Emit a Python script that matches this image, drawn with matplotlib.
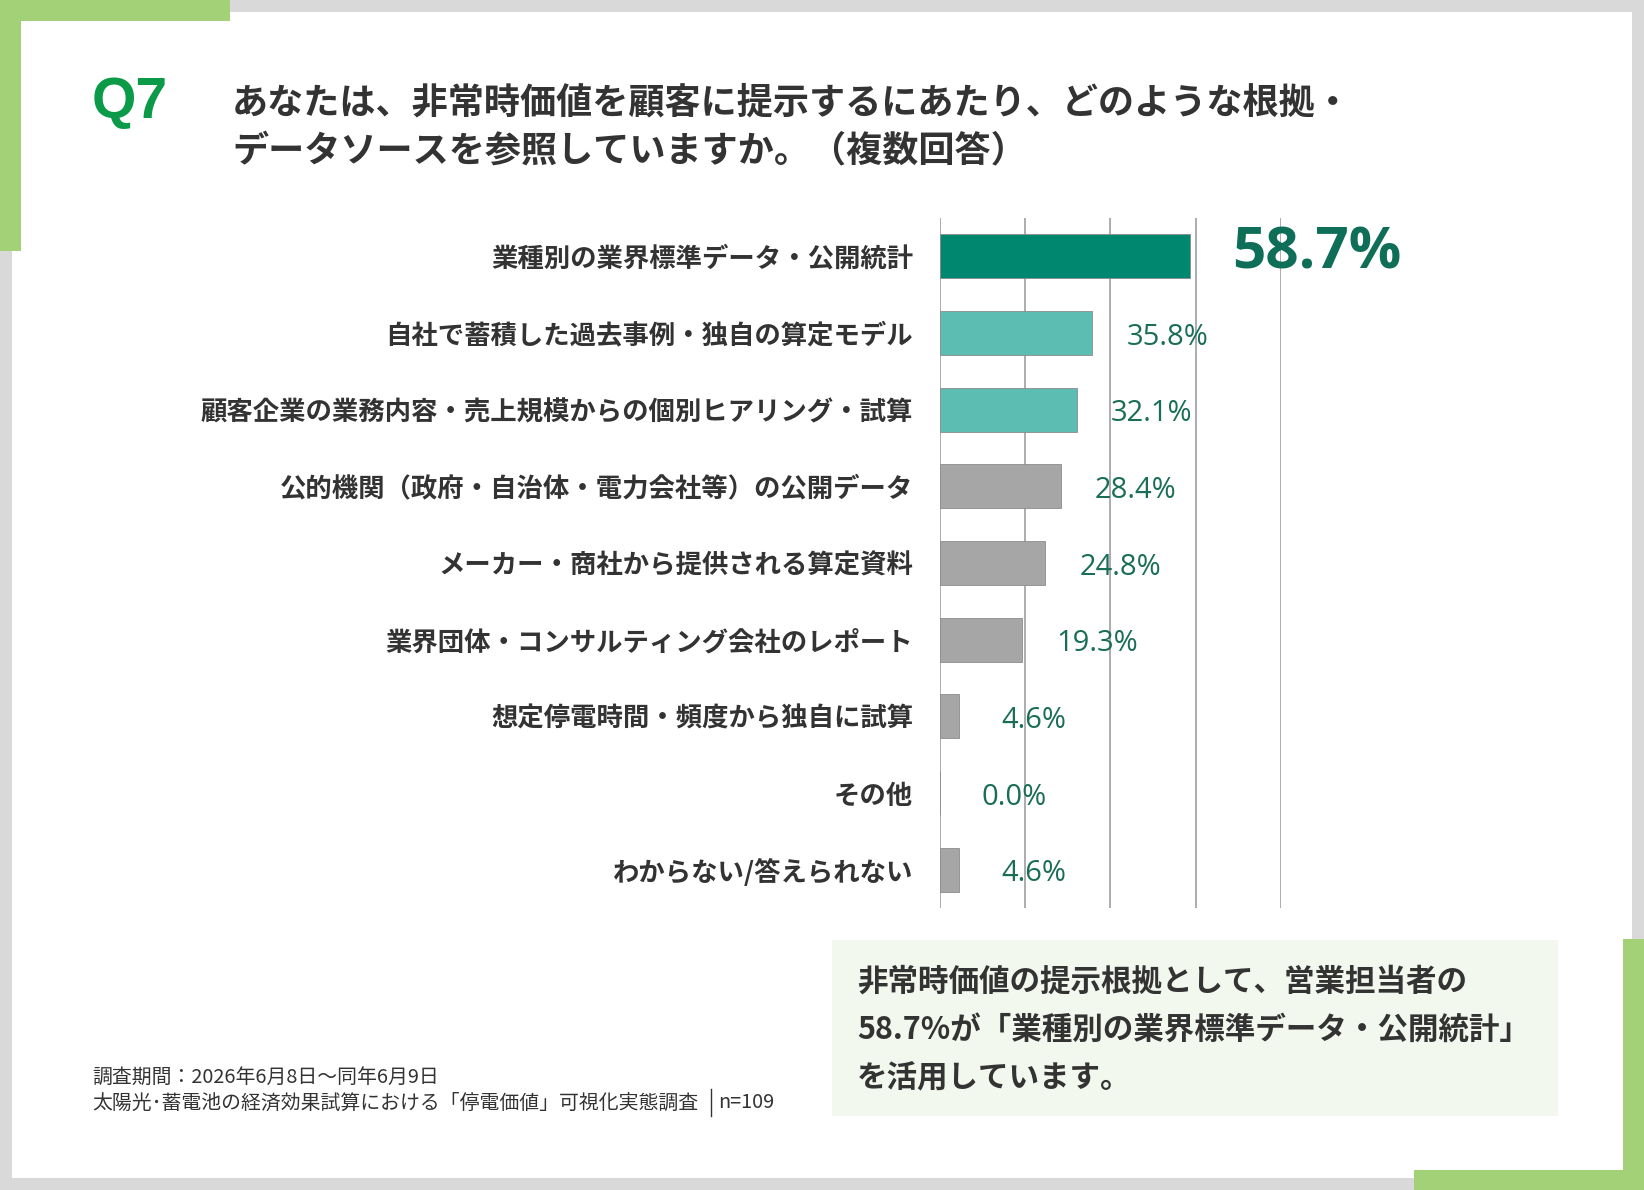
import matplotlib
matplotlib.use("Agg")
import matplotlib.pyplot as plt
from matplotlib.patches import Rectangle

# ---------------- data ----------------
categories = [
    "業種別の業界標準データ・公開統計",
    "自社で蓄積した過去事例・独自の算定モデル",
    "顧客企業の業務内容・売上規模からの個別ヒアリング・試算",
    "公的機関（政府・自治体・電力会社等）の公開データ",
    "メーカー・商社から提供される算定資料",
    "業界団体・コンサルティング会社のレポート",
    "想定停電時間・頻度から独自に試算",
    "その他",
    "わからない/答えられない",
]
values = [58.7, 35.8, 32.1, 28.4, 24.8, 19.3, 4.6, 0.0, 4.6]
bar_colors = ["#00876F", "#5CBDB2", "#5CBDB2", "#A6A6A6", "#A6A6A6",
              "#A6A6A6", "#A6A6A6", "#A6A6A6", "#A6A6A6"]
grid_ticks = [0, 20, 40, 60, 80]

title_lines = ["あなたは、非常時価値を顧客に提示するにあたり、どのような根拠・",
               "データソースを参照していますか。（複数回答）"]
summary_lines = ["非常時価値の提示根拠として、営業担当者の",
                 "58.7%が「業種別の業界標準データ・公開統計」",
                 "を活用しています。"]
footer_lines = ["調査期間：2026年6月8日～同年6月9日",
                "太陽光･蓄電池の経済効果試算における「停電価値」可視化実態調査"]
sample_note = "n=109"

JP = ["Noto Sans CJK JP", "DejaVu Sans"]
W, H = 1644, 1190

def fx(x):
    return x / W

def fy(y):
    return 1 - y / H

fig = plt.figure(figsize=(W / 100, H / 100), dpi=100)
fig.patch.set_facecolor("white")

def frect(x0, y0, x1, y1, color, z=0):
    fig.patches.append(Rectangle((fx(x0), fy(y1)), fx(x1) - fx(x0), fy(y0) - fy(y1),
                                 transform=fig.transFigure, facecolor=color,
                                 edgecolor="none", zorder=z))

# frame
gray = "#D9D9D9"
green = "#A3D177"
frect(0, 0, W, 12, gray)
frect(0, 1178, W, H, gray)
frect(0, 0, 12, H, gray)
frect(1632, 0, W, H, gray)
frect(0, 0, 230, 21, green, 1)
frect(0, 0, 21, 251, green, 1)
frect(1623, 939, W, H, green, 1)
frect(1414, 1170, W, H, green, 1)

# summary box
frect(832, 940, 1558, 1116, "#F3F8EE", 1)

# ---------------- title ----------------
fig.text(fx(92), fy(103), "Q7", fontsize=41, fontweight="bold", color="#0A9A48",
         family=["Liberation Sans", "DejaVu Sans"], ha="left", va="center")
for i, line in enumerate(title_lines):
    fig.text(fx(232), fy(103 + i * 49), line, fontsize=26, fontweight="bold",
             color="#333333", family=JP, ha="left", va="center")

# ---------------- chart ----------------
ax_left, ax_right = 939.5, 1281
ax_top, ax_bottom = 218, 908
ax = fig.add_axes([fx(ax_left), fy(ax_bottom), fx(ax_right) - fx(ax_left),
                   (ax_bottom - ax_top) / H])
ax.set_facecolor("none")
ypos = list(range(len(categories)))
bars = ax.barh(ypos, values, height=0.57, color=bar_colors,
               edgecolor="#8C8C8C", linewidth=0.6, zorder=2)
ax.set_xlim(0, 80)
ax.set_ylim(len(categories) - 0.5, -0.5)
for g in grid_ticks:
    ax.axvline(g, color="#A6A6A6", linewidth=1.3, zorder=1)
for s in ax.spines.values():
    s.set_visible(False)
ax.set_xticks([])
ax.set_yticks(ypos)
ax.set_yticklabels(categories, family=JP, fontsize=19, fontweight="bold",
                   color="#333333")
ax.tick_params(axis="y", length=0, pad=19)
for lbl in ax.get_yticklabels():
    lbl.set_y(lbl.get_position()[1])
    lbl.set_va("center_baseline")

for i, v in enumerate(values):
    if i == 0:
        ax.annotate(f"{v:.1f}%", xy=(v, i), xytext=(30, 2), textcoords="offset points",
                    ha="left", va="center", fontsize=42, fontweight="bold",
                    color="#0E6E58", family=["Open Sans", "DejaVu Sans"],
                    annotation_clip=False, zorder=3)
    else:
        ax.annotate(f"{v:.1f}%", xy=(v, i), xytext=(54, -3), textcoords="offset points",
                    ha="center", va="center", fontsize=21,
                    color="#1A6E58", family=["Open Sans", "DejaVu Sans"],
                    annotation_clip=False, zorder=3)

# ---------------- summary ----------------
for i, line in enumerate(summary_lines):
    fig.text(fx(857), fy(982 + i * 48), line, fontsize=22, fontweight="bold",
             color="#333333", family=JP, ha="left", va="center")

# ---------------- footer ----------------
fig.text(fx(92), fy(1077), footer_lines[0], fontsize=14.3, color="#333333",
         family=JP, ha="left", va="center")
fig.text(fx(92), fy(1103), footer_lines[1], fontsize=14.3, color="#333333",
         family=JP, ha="left", va="center")
fig.lines.append(plt.Line2D([fx(711), fx(711)], [fy(1089), fy(1116)],
                            transform=fig.transFigure, color="#333333", linewidth=1))
fig.text(fx(718), fy(1103), sample_note, fontsize=14.3, color="#333333",
         family=JP, ha="left", va="center")

fig.savefig("out.png", dpi=100, facecolor="white")
